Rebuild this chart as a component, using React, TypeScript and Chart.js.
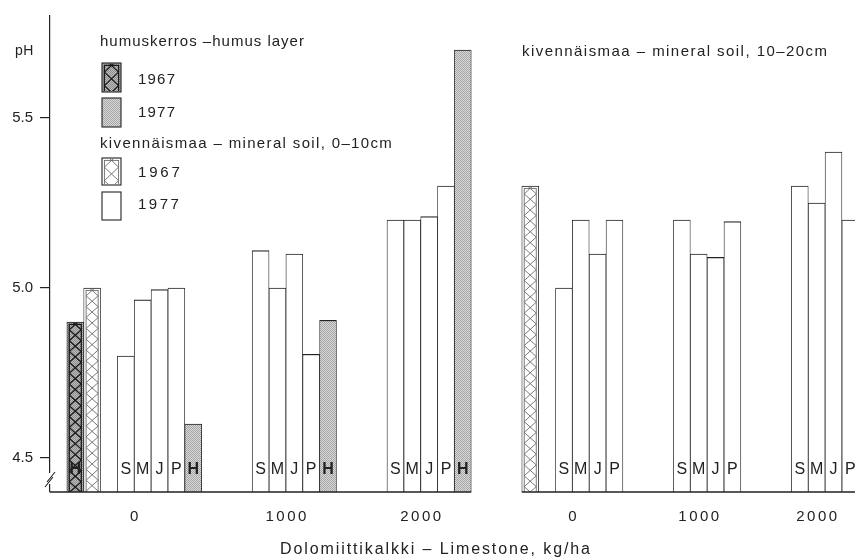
import { useEffect, useRef } from 'react';
import { Chart, registerables } from 'chart.js';

Chart.register(...registerables);

const FONT = '"Liberation Sans", Arial, Helvetica, sans-serif';
const INK = '#222222';

// Liming rates and sample plots
const rates = ['0', '1000', '2000'];
const sites = ['S', 'M', 'J', 'P'];
const humusTag = 'H';

// pH of the humus layer
const humus1967 = 4.9;
const humus1977 = [4.6, 4.905, 5.7];

// pH of the mineral soil, 0–10 cm
const topsoil1967 = 5.0;
const topsoil1977_0 = [4.8, 4.965, 4.995, 5.0];
const topsoil1977_1000 = [5.11, 5.0, 5.1, 4.805];
const topsoil1977_2000 = [5.2, 5.2, 5.21, 5.3];

// pH of the mineral soil, 10–20 cm
const subsoil1967 = 5.3;
const subsoil1977_0 = [5.0, 5.2, 5.1, 5.2];
const subsoil1977_1000 = [5.2, 5.1, 5.09, 5.195];
const subsoil1977_2000 = [5.3, 5.25, 5.4, 5.2];

const yTicks = [4.5, 5.0, 5.5];
const Y_MIN = 4.4;
const Y_MAX = 5.8;

// slot layout along the category axis
const SLOT_COUNT = 48;
const HUMUS_CONTROL_SLOT = 1;
const TOPSOIL_CONTROL_SLOT = 2;
const SUBSOIL_CONTROL_SLOT = 28;
const LEFT_GROUP_START = [4, 12, 20];
const RIGHT_GROUP_START = [30, 37, 44];
const LEFT_LAST_SLOT = 24;
const RIGHT_FIRST_SLOT = 28;
const LEFT_RATE_POS = [5, 14, 22];
const RIGHT_RATE_POS = [31, 38.5, 45.5];

const topsoil1977 = [topsoil1977_0, topsoil1977_1000, topsoil1977_2000];
const subsoil1977 = [subsoil1977_0, subsoil1977_1000, subsoil1977_2000];

const blank = (): (number | null)[] => Array(SLOT_COUNT).fill(null);
const humusOld = blank();
const humusNew = blank();
const mineralOld = blank();
const mineralNew = blank();
const slotTags: string[] = Array(SLOT_COUNT).fill('');

humusOld[HUMUS_CONTROL_SLOT] = humus1967;
slotTags[HUMUS_CONTROL_SLOT] = humusTag;
mineralOld[TOPSOIL_CONTROL_SLOT] = topsoil1967;
mineralOld[SUBSOIL_CONTROL_SLOT] = subsoil1967;
LEFT_GROUP_START.forEach((start, g) => {
  topsoil1977[g].forEach((v, i) => {
    mineralNew[start + i] = v;
    slotTags[start + i] = sites[i];
  });
  humusNew[start + sites.length] = humus1977[g];
  slotTags[start + sites.length] = humusTag;
});
RIGHT_GROUP_START.forEach((start, g) => {
  subsoil1977[g].forEach((v, i) => {
    mineralNew[start + i] = v;
    slotTags[start + i] = sites[i];
  });
});

function stipple(ctx: CanvasRenderingContext2D, light: string, dark: string) {
  const c = document.createElement('canvas');
  c.width = 2;
  c.height = 2;
  const g = c.getContext('2d')!;
  g.fillStyle = light;
  g.fillRect(0, 0, 2, 2);
  g.fillStyle = dark;
  g.fillRect(0, 0, 1, 1);
  g.fillRect(1, 1, 1, 1);
  return ctx.createPattern(c, 'repeat')!;
}

// diamond lattice with an inner frame, clipped to the given box
function lattice(
  ctx: CanvasRenderingContext2D,
  l: number,
  t: number,
  w: number,
  h: number,
  color: string,
  lw: number,
  inset: number,
  ratio: number,
) {
  ctx.save();
  ctx.beginPath();
  ctx.rect(l + 0.8, t + 0.8, w - 1.6, h - 0.8);
  ctx.clip();
  ctx.strokeStyle = color;
  ctx.lineWidth = lw;
  const il = l + inset;
  const it = t + inset;
  const iw = w - 2 * inset;
  ctx.strokeRect(il, it, iw, h + 10);
  const P = iw * ratio;
  ctx.beginPath();
  for (let yk = it; yk < t + h + P; yk += P) {
    ctx.moveTo(il, yk + P / 2);
    ctx.lineTo(il + iw, yk - P / 2);
    ctx.moveTo(il, yk - P / 2);
    ctx.lineTo(il + iw, yk + P / 2);
  }
  ctx.stroke();
  ctx.restore();
}

function label(
  ctx: CanvasRenderingContext2D,
  s: string,
  x: number,
  y: number,
  size: number,
  spacing: number,
  align: CanvasTextAlign = 'left',
  weight = 'normal',
) {
  ctx.save();
  ctx.font = `${weight} ${size}px ${FONT}`;
  (ctx as any).letterSpacing = `${spacing}px`;
  ctx.textAlign = align;
  ctx.textBaseline = 'middle';
  ctx.fillStyle = INK;
  ctx.fillText(s, align === 'center' ? x + spacing / 2 : x, y);
  ctx.restore();
}

type Styles = { darkHatch: CanvasPattern; grain: CanvasPattern };

function makeDecor(styles: Styles) {
  return {
    id: 'decor',
    beforeDraw(chart: any) {
      const { ctx, width, height } = chart;
      ctx.save();
      ctx.fillStyle = '#fff';
      ctx.fillRect(0, 0, width, height);
      ctx.restore();
    },
    afterDatasetsDraw(chart: any) {
      const ctx: CanvasRenderingContext2D = chart.ctx;
      const xs = chart.scales.x;
      const ys = chart.scales.y;
      const area = chart.chartArea;
      const slotW = (area.right - area.left) / SLOT_COUNT;
      const baseY = ys.getPixelForValue(Y_MIN);

      // cross-hatching on the 1967 bars
      [
        { index: 0, color: '#1a1a1a', lw: 1.3 },
        { index: 2, color: '#6a6a6a', lw: 0.9 },
      ].forEach(({ index, color, lw }) => {
        const meta = chart.getDatasetMeta(index);
        const values = chart.data.datasets[index].data;
        meta.data.forEach((bar: any, i: number) => {
          if (values[i] == null) return;
          const p = bar.getProps(['x', 'y', 'width'], true);
          lattice(ctx, p.x - p.width / 2, p.y, p.width, baseY - p.y, color, lw, 2.4, 0.9);
        });
      });

      // plot letters inside the bars
      const tagY = baseY - 22;
      slotTags.forEach((tag, i) => {
        if (!tag) return;
        const x = xs.getPixelForValue(i);
        label(ctx, tag, x, tagY, 16, 0, 'center', tag === humusTag ? 'bold' : 'normal');
      });

      // split baseline
      ctx.save();
      ctx.strokeStyle = INK;
      ctx.lineWidth = 1.4;
      ctx.beginPath();
      ctx.moveTo(area.left, baseY);
      ctx.lineTo(xs.getPixelForValue(LEFT_LAST_SLOT) + slotW / 2, baseY);
      ctx.moveTo(xs.getPixelForValue(RIGHT_FIRST_SLOT) - slotW / 2, baseY);
      ctx.lineTo(area.right, baseY);
      ctx.stroke();

      // axis break
      ctx.fillStyle = '#fff';
      ctx.fillRect(area.left - 2, baseY - 19, 4, 11);
      ctx.lineWidth = 1.1;
      ctx.beginPath();
      ctx.moveTo(area.left - 3, baseY - 10);
      ctx.lineTo(area.left + 5, baseY - 20);
      ctx.moveTo(area.left - 5, baseY - 5);
      ctx.lineTo(area.left + 3, baseY - 15);
      ctx.stroke();
      ctx.restore();

      // rate labels under each group
      const rateY = baseY + 25;
      LEFT_RATE_POS.forEach((pos, g) => {
        label(ctx, rates[g], area.left + pos * slotW, rateY, 15, 2.5, 'center');
      });
      RIGHT_RATE_POS.forEach((pos, g) => {
        label(ctx, rates[g], area.left + pos * slotW, rateY, 15, 2.5, 'center');
      });
      label(ctx, 'Dolomiittikalkki – Limestone, kg/ha', 435, 550, 16, 1.9, 'center');

      // axis unit and panel headings
      label(ctx, 'pH', 15, 51, 14, 0.5);
      label(ctx, 'kivennäismaa – mineral soil, 10–20cm', 522, 52, 15, 1.45);

      // legend
      const swatch = (t: number, h: number, fill: string | CanvasPattern, hatch?: { color: string; lw: number }) => {
        const l = 102;
        const w = 19;
        ctx.save();
        ctx.fillStyle = fill;
        ctx.fillRect(l, t, w, h);
        ctx.restore();
        if (hatch) lattice(ctx, l, t, w, h - 1, hatch.color, hatch.lw, 2.4, 0.95);
        ctx.save();
        ctx.strokeStyle = INK;
        ctx.lineWidth = 1.1;
        ctx.strokeRect(l, t, w, h);
        ctx.restore();
      };
      label(ctx, 'humuskerros –humus layer', 100, 42, 15, 1);
      swatch(63, 29, styles.darkHatch, { color: '#1a1a1a', lw: 1.3 });
      label(ctx, '1967', 138, 80, 15, 1.2);
      swatch(98, 29, styles.grain);
      label(ctx, '1977', 138, 113, 15, 1.2);
      label(ctx, 'kivennäismaa – mineral soil, 0–10cm', 100, 144, 15, 1.35);
      swatch(158, 27, '#fff', { color: '#6a6a6a', lw: 0.9 });
      label(ctx, '1967', 138, 173, 15, 2.8);
      swatch(192, 28, '#fff');
      label(ctx, '1977', 138, 205, 15, 2.5);
    },
  };
}

export default function App() {
  const canvasRef = useRef<HTMLCanvasElement | null>(null);

  useEffect(() => {
    const canvas = canvasRef.current;
    if (!canvas) return;
    const ctx = canvas.getContext('2d')!;
    const styles: Styles = {
      darkHatch: stipple(ctx, '#bdbdbd', '#8c8c8c'),
      grain: stipple(ctx, '#d8d8d8', '#a6a6a6'),
    };
    const barCommon = {
      grouped: false,
      barPercentage: 1,
      categoryPercentage: 1,
      borderColor: INK,
      borderWidth: { top: 1.2, left: 0.8, right: 0.8, bottom: 0 },
      borderSkipped: 'start' as const,
    };
    const chart = new Chart(canvas, {
      type: 'bar',
      data: {
        labels: slotTags,
        datasets: [
          { label: 'humus 1967', data: humusOld, backgroundColor: styles.darkHatch, ...barCommon },
          { label: 'humus 1977', data: humusNew, backgroundColor: styles.grain, ...barCommon },
          { label: 'mineral 1967', data: mineralOld, backgroundColor: '#ffffff', ...barCommon },
          { label: 'mineral 1977', data: mineralNew, backgroundColor: '#ffffff', ...barCommon },
        ],
      },
      options: {
        responsive: false,
        animation: false,
        events: [],
        layout: { padding: { left: 0, top: 12, right: 11.2, bottom: 68 } },
        plugins: { legend: { display: false }, tooltip: { enabled: false } },
        scales: {
          x: { display: false },
          y: {
            min: Y_MIN,
            max: Y_MAX,
            afterBuildTicks: (scale: any) => {
              scale.ticks = yTicks.map((v) => ({ value: v }));
            },
            afterFit: (scale: any) => {
              scale.width = 50;
            },
            ticks: {
              font: { family: FONT, size: 15 },
              color: INK,
              padding: 7,
              callback: (v: any) => Number(v).toFixed(1),
            },
            grid: { drawOnChartArea: false, drawTicks: true, tickLength: 10, color: INK, lineWidth: 1.2 },
            border: { display: true, color: INK, width: 1.2 },
          },
        },
      },
      plugins: [makeDecor(styles)],
    });
    return () => chart.destroy();
  }, []);

  return (
    <div
      style={{
        position: 'fixed',
        left: 0,
        top: 0,
        width: 855,
        height: 560,
        overflow: 'hidden',
        background: '#fff',
      }}
    >
      <canvas ref={canvasRef} width={870} height={560} style={{ display: 'block' }} />
    </div>
  );
}
